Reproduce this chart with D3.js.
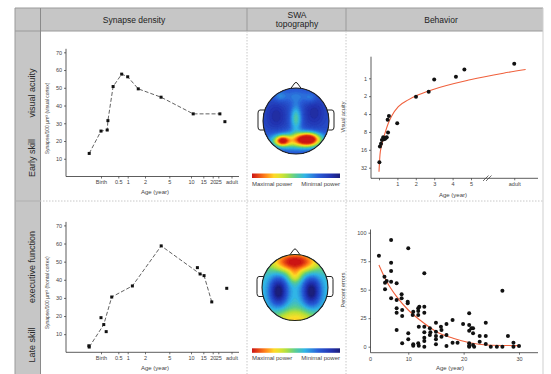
<!DOCTYPE html>
<html>
<head>
<meta charset="utf-8">
<script src="https://cdn.jsdelivr.net/npm/d3@7"></script>
<style>
  body { margin: 0; background: #fff; }
  svg { display: block; }
  text { font-family: "Liberation Sans", Arial, sans-serif; }
</style>
</head>
<body>
<svg id="fig" width="551" height="374"></svg>
<script>
// ---------------- data ----------------
// Synapse density, visual cortex (age in years; negative = before birth)
const visualAge     = [-0.34, 0, 0.18, 0.2, 0.35, 0.68, 1.0, 1.61, 3.98, 10.9, 25.6, 27.5];
const visualDensity = [13.0, 25.6, 26.2, 31.5, 50.7, 57.7, 56.2, 49.4, 44.7, 35.3, 35.3, 30.9];
const visualJoined  = [1, 1, 1, 1, 1, 1, 1, 1, 1, 1, 1, 0];

// Synapse density, frontal cortex
const frontalAge     = [-0.35, -0.34, 0, 0.08, 0.15, 0.31, 1.27, 4.0, 12.6, 13.7, 15.4, 19.5, 28.2];
const frontalDensity = [3.6, 2.9, 19.1, 15.3, 11.4, 30.5, 36.6, 58.7, 46.7, 43.2, 42.3, 27.8, 35.3];
const frontalJoined  = [0, 1, 0, 1, 0, 1, 1, 1, 0, 1, 1, 1, 0];

// Age axis of the synapse panels (30 stands for "adult")
const synTickAges   = [0, 0.5, 1, 2, 5, 10, 15, 20, 25, 30];
const synTickLabels = ["Birth", "0.5", "1", "2", "5", "10", "15", "20", "25", "adult"];
const synYTicks     = [10, 20, 30, 40, 50, 60, 70];

// Visual acuity vs age ("adult" placed after the axis break)
const acuityAge = [0.02, 0.05, 0.11, 0.16, 0.23, 0.27, 0.33, 0.38, 0.42, 0.49, 0.47, 0.54, 0.99, 2.01, 2.7, 3.0, 4.18, 4.64, "adult"];
const acuityVal = [26, 14, 12.7, 10.9, 9.8, 10.6, 10.4, 10, 9.8, 8.2, 5.0, 4.3, 5.7, 2.04, 1.68, 1.05, 0.94, 0.71, 0.57];
const acuityFitAge = [0.0, 0.054, 0.147, 0.326, 0.505, 0.69, 1.05, 1.59, 2.14, 2.86, 4.95, 6.76, 7.97];
const acuityFitVal = [37.3, 19.4, 13.3, 8.4, 5.7, 4.3, 3.0, 2.31, 1.9, 1.57, 1.06, 0.82, 0.71];
const acuityYTicks = [1, 2, 4, 8, 16, 32];
const acuityXTicks = [0, 1, 2, 3, 4, 5, "adult"];

// Percent errors vs age
const errorsAge = [4.7, 5.7, 5.8, 5.8, 6.1, 6.9, 6.9, 6.9, 6.9, 6.9, 7.9, 7.9, 7.9, 7.9, 7.9,
  8.8, 8.8, 8.9, 8.9, 8.9, 9.9, 9.9, 10, 10, 10, 10.8, 10.9, 10.9, 10.9, 11.8, 11.8, 11.8, 11.8,
  11.9, 11.9, 12, 12.9, 12.9, 12.9, 12.9, 12.9, 12.9, 12.9, 12.9, 13.9, 13.9, 14, 15, 15, 15, 15, 15,
  15.9, 16, 16, 16.9, 16.9, 16.9, 18, 18, 18.9, 19.9, 21, 21, 21, 21, 21, 21, 21.4, 21.7, 21.7, 21.7,
  21.9, 22.9, 22.9, 24, 24, 24, 24.9, 26, 27, 27, 28, 29, 29, 30];
const errorsPct = [79.8, 61.4, 56.1, 50.3, 57.6, 93.6, 73.7, 66.4, 57.0, 42.4, 55.6, 41.0, 33.7, 29.8, 14.6,
  46.0, 42.4, 32.2, 26.9, 3.0, 39.5, 38.1, 86.3, 11.7, 6.5, 27.8, 30.7, 2.1, 0.9, 33.7, 31.3, 27.8, 3.0,
  0.9, 17.5, 35.1, 64.4, 35.1, 29.8, 17.5, 12.6, 7.9, 5.0, 0, 16.1, 10.3, 12.6, 21.0, 13.2, 9.4, 6.5, 2.1,
  17.5, 14.6, 8.8, 19.9, 10.3, 0.6, 23.4, 3.5, 3.5, 19.9, 29.3, 19.0, 14.0, 3.0, 0.9, 0, 16.1, 16.1, 11.7, 1.5,
  0, 9.4, 4.4, 21.0, 9.4, 2.4, 0, 0, 49.1, 0, 9.4, 3.5, 0, 0.6];
const errorsFitAge = [4.7, 6.1, 7.9, 10, 12.1, 15.1, 18.1, 21.1, 24.2, 30];
const errorsFitPct = [71.7, 57.2, 43.9, 32.2, 23.4, 13.2, 7.4, 3.5, 1.5, 0.9];
const errorsYTicks = [0, 25, 50, 75, 100];
const errorsXTicks = [10, 20, 30];

// SWA topography: activity blobs [u, v, amplitude, spreadU, spreadV] in head-radius units
const topoVisualBase = 0.2;
const topoVisualBlobs = [
  [-0.6, -0.15, -0.12, 0.22, 0.3],
  [0.55, -0.25, -0.12, 0.22, 0.3],
  [0.0, -0.08, 0.3, 0.12, 0.28],
  [0.0, -0.75, 0.1, 0.3, 0.15],
  [-0.5, -0.75, 0.12, 0.14, 0.12],
  [0.45, -0.7, 0.1, 0.14, 0.12],
  [0.37, 0.55, 0.72, 0.24, 0.13],
  [-0.42, 0.6, 0.55, 0.15, 0.1],
  [0.0, 0.6, 0.45, 0.55, 0.17]
];
const topoFrontalBase = 0.45;
const topoFrontalBlobs = [
  [0.0, -0.78, 0.6, 0.5, 0.22],
  [0.0, -0.35, 0.22, 0.14, 0.15],
  [-0.5, 0.12, -0.47, 0.2, 0.32],
  [0.5, 0.12, -0.47, 0.2, 0.32],
  [0.0, 1.0, 0.32, 0.5, 0.25]
];

// ---------------- drawing ----------------
const svg = d3.select("#fig");
const INK = "#333";

// table frame
svg.append("rect").attr("x", 15).attr("y", 8).attr("width", 528).attr("height", 23).attr("fill", "#c6c6c6");
svg.append("rect").attr("x", 15).attr("y", 31).attr("width", 25).attr("height", 343).attr("fill", "#c6c6c6");
const frame = svg.append("g").attr("stroke", "#9a9a9a").attr("stroke-width", 1).attr("fill", "none");
frame.append("line").attr("x1", 15).attr("x2", 543).attr("y1", 8).attr("y2", 8);
frame.append("line").attr("x1", 15).attr("x2", 543).attr("y1", 31).attr("y2", 31);
frame.append("line").attr("x1", 15).attr("x2", 15).attr("y1", 8).attr("y2", 374);
frame.append("line").attr("x1", 40.5).attr("x2", 40.5).attr("y1", 8).attr("y2", 374).attr("stroke", "#8a8a8a");
frame.append("line").attr("x1", 247).attr("x2", 247).attr("y1", 8).attr("y2", 31);
frame.append("line").attr("x1", 346).attr("x2", 346).attr("y1", 8).attr("y2", 31);
frame.append("line").attr("x1", 543).attr("x2", 543).attr("y1", 8).attr("y2", 374).attr("stroke", "#cfcfcf");
const dots = svg.append("g").attr("stroke", "#c8c8c8").attr("stroke-width", 1).attr("stroke-dasharray", "1.5,1.5");
dots.append("line").attr("x1", 247).attr("x2", 247).attr("y1", 31).attr("y2", 374);
dots.append("line").attr("x1", 346).attr("x2", 346).attr("y1", 31).attr("y2", 374);
dots.append("line").attr("x1", 40).attr("x2", 543).attr("y1", 201).attr("y2", 201);
svg.append("line").attr("x1", 15).attr("x2", 40).attr("y1", 201).attr("y2", 201).attr("stroke", "#b0b0b0");

// column headers
const headers = [
  { lines: ["Synapse density"], x: 134 },
  { lines: ["SWA", "topography"], x: 297 },
  { lines: ["Behavior"], x: 441 }
];
headers.forEach(h => {
  const t = svg.append("text").attr("x", h.x).attr("text-anchor", "middle")
    .attr("font-size", 8.5).attr("fill", "#222");
  const y0 = h.lines.length === 1 ? 22.5 : 17.5;
  h.lines.forEach((s, i) => t.append("tspan").attr("x", h.x).attr("y", y0 + i * 9.5).text(s));
});

// row labels
const rowLabels = [
  { text: "visual acuity", y: 93 },
  { text: "Early skill", y: 158 },
  { text: "executive function", y: 267 },
  { text: "Late skill", y: 345 }
];
rowLabels.forEach(r => {
  svg.append("text").attr("transform", `translate(35,${r.y}) rotate(-90)`)
    .attr("text-anchor", "middle").attr("font-size", 9).attr("fill", "#2a2a2a").text(r.text);
});

function styleAxis(g, size) {
  g.select(".domain").remove();
  g.selectAll(".tick line").attr("stroke", INK).attr("stroke-width", 0.7);
  g.selectAll(".tick text").attr("font-size", size || 5.5).attr("fill", "#444")
    .attr("font-family", '"Liberation Sans", Arial, sans-serif');
}

// ---------- synapse density panels ----------
const synX = d3.scaleLinear()
  .domain([-0.75, ...synTickAges])
  .range([75, 101, 118.3, 127.7, 145, 169.3, 191, 203.3, 212.7, 218.3, 231.5]);

function synapsePanel(ages, dens, joined, top, bottom, yLabel) {
  const y = d3.scaleLinear().domain([0, 70]).range([bottom, top]);
  const g = svg.append("g");
  g.append("line").attr("x1", 66).attr("x2", 66).attr("y1", top - 3.5).attr("y2", bottom).attr("stroke", INK).attr("stroke-width", 0.8);
  g.append("line").attr("x1", 66).attr("x2", 239).attr("y1", bottom).attr("y2", bottom).attr("stroke", INK).attr("stroke-width", 0.8);
  const ya = g.append("g").attr("transform", "translate(66,0)")
    .call(d3.axisLeft(y).tickValues(synYTicks).tickSize(2).tickPadding(2));
  styleAxis(ya);
  const xa = g.append("g").attr("transform", `translate(0,${bottom})`)
    .call(d3.axisBottom(synX).tickValues(synTickAges).tickFormat((d, i) => synTickLabels[i]).tickSize(2).tickPadding(2));
  styleAxis(xa);
  g.append("text").attr("x", 155).attr("y", bottom + 17.5).attr("text-anchor", "middle")
    .attr("font-size", 6).attr("fill", "#444").text("Age (year)");
  g.append("text").attr("transform", `translate(49,${(top + bottom) / 2 + 4}) rotate(-90)`)
    .attr("text-anchor", "middle").attr("font-size", 5).attr("fill", "#444").text(yLabel);

  const pts = ages.map((a, i) => ({ a, v: dens[i], j: joined[i] }));
  const line = d3.line().x(d => synX(d.a)).y(d => y(d.v));
  g.append("path").datum(pts.filter(d => d.j)).attr("d", line)
    .attr("fill", "none").attr("stroke", "#3a3a3a").attr("stroke-width", 0.8).attr("stroke-dasharray", "4,2");
  g.selectAll("rect.pt").data(pts).join("rect").attr("class", "pt")
    .attr("x", d => synX(d.a) - 1.5).attr("y", d => y(d.v) - 1.5)
    .attr("width", 3).attr("height", 3).attr("fill", "#111");
}
synapsePanel(visualAge, visualDensity, visualJoined, 52.3, 176.5, "Synapse/100 µm³ (visual cortex)");
synapsePanel(frontalAge, frontalDensity, frontalJoined, 225.4, 352.3, "Synapse/100 µm³ (frontal cortex)");

// ---------- SWA topography ----------
const topoColor = d3.scaleLinear()
  .domain([0, 0.1, 0.25, 0.4, 0.52, 0.62, 0.74, 0.86, 1])
  .range(["#1c1f7a", "#2233b0", "#2a5fd8", "#31b5e6", "#5fd08a", "#b8e23a", "#ffe02a", "#ff7a1a", "#cc1414"]);

const defs = svg.append("defs");
const grad = defs.append("linearGradient").attr("id", "powerGrad");
d3.range(0, 1.0001, 0.05).forEach(t => {
  grad.append("stop").attr("offset", t).attr("stop-color", topoColor(1 - t));
});

function topoPanel(cx, cy, r, base, blobs, id, barY) {
  const n = 90, ext = 1.1;
  const values = new Float64Array(n * n);
  for (let j = 0; j < n; j++) {
    for (let i = 0; i < n; i++) {
      const u = ((i + 0.5) / n) * 2 * ext - ext;
      const v = ((j + 0.5) / n) * 2 * ext - ext;
      let f = base;
      blobs.forEach(b => {
        f += b[2] * Math.exp(-((u - b[0]) ** 2 / (2 * b[3] ** 2) + (v - b[1]) ** 2 / (2 * b[4] ** 2)));
      });
      values[j * n + i] = Math.max(0, Math.min(1, f));
    }
  }
  const contours = d3.contours().size([n, n]).thresholds(d3.range(0, 1.0001, 0.025))(values);
  const proj = d3.geoIdentity().scale((2 * ext * r) / n).translate([cx - ext * r, cy - ext * r]);
  const path = d3.geoPath(proj);

  const g = svg.append("g");
  // ears and nose
  const ear = (sx) => {
    const x0 = cx + sx * (r - 2), x1 = cx + sx * (r + 5);
    return `M${x0},${cy - 11} L${x1 - sx * 2},${cy - 11} Q${x1},${cy - 11} ${x1},${cy - 8} L${x1},${cy + 6} Q${x1},${cy + 9} ${x1 - sx * 2},${cy + 9} L${x0},${cy + 9}`;
  };
  [-1, 1].forEach(sx => g.append("path").attr("d", ear(sx)).attr("fill", "#fff").attr("stroke", "#222").attr("stroke-width", 1));
  g.append("path").attr("d", `M${cx - 6},${cy - r + 1.5} L${cx - 1.2},${cy - r - 5} Q${cx},${cy - r - 6.2} ${cx + 1.2},${cy - r - 5} L${cx + 6},${cy - r + 1.5}`)
    .attr("fill", "#fff").attr("stroke", "#222").attr("stroke-width", 1);

  defs.append("clipPath").attr("id", id).append("circle").attr("cx", cx).attr("cy", cy).attr("r", r);
  g.append("g").attr("clip-path", `url(#${id})`)
    .selectAll("path").data(contours).join("path")
    .attr("d", path).attr("fill", d => topoColor(d.value)).attr("stroke", d => topoColor(d.value)).attr("stroke-width", 0.3);
  g.append("circle").attr("cx", cx).attr("cy", cy).attr("r", r).attr("fill", "none").attr("stroke", "#222").attr("stroke-width", 1.1);

  // colour bar
  g.append("rect").attr("x", 252).attr("y", barY).attr("width", 88).attr("height", 4.5).attr("fill", "url(#powerGrad)");
  g.append("text").attr("x", 252).attr("y", barY + 12).attr("font-size", 6).attr("fill", "#444").text("Maximal power");
  g.append("text").attr("x", 340).attr("y", barY + 12).attr("text-anchor", "end").attr("font-size", 6).attr("fill", "#444").text("Minimal power");
}
topoPanel(296, 121, 33, topoVisualBase, topoVisualBlobs, "headClipA", 173.5);
topoPanel(295, 287.5, 33, topoFrontalBase, topoFrontalBlobs, "headClipB", 348.3);

// ---------- behavior: visual acuity ----------
const ADULT_SLOT = 7.35;
const acX = d3.scaleLinear().domain([0, 8]).range([379, 526.2]);
const acY = d3.scaleLog().base(2).domain([1, 32]).range([78.3, 167.7]);
const slot = a => (a === "adult" ? ADULT_SLOT : a);
{
  const g = svg.append("g");
  const bottom = 178.3;
  g.append("line").attr("x1", 371).attr("x2", 371).attr("y1", 56.7).attr("y2", bottom).attr("stroke", INK).attr("stroke-width", 0.8);
  g.append("line").attr("x1", 371).attr("x2", 538).attr("y1", bottom).attr("y2", bottom).attr("stroke", INK).attr("stroke-width", 0.8);
  styleAxis(g.append("g").attr("transform", "translate(371,0)")
    .call(d3.axisLeft(acY).tickValues(acuityYTicks).tickFormat(d3.format("d")).tickSize(2).tickPadding(2)));
  styleAxis(g.append("g").attr("transform", `translate(0,${bottom})`)
    .call(d3.axisBottom(acX).tickValues(acuityXTicks.map(slot))
      .tickFormat((d, i) => (acuityXTicks[i] === 0 ? "" : String(acuityXTicks[i]))).tickSize(2).tickPadding(2)));
  // axis break
  [0, 3].forEach(o => g.append("line").attr("x1", 483 + o).attr("y1", 181).attr("x2", 488.5 + o).attr("y2", 175.5)
    .attr("stroke", INK).attr("stroke-width", 0.7));
  g.append("text").attr("x", 453).attr("y", 197).attr("text-anchor", "middle").attr("font-size", 6).attr("fill", "#444").text("Age (year)");
  g.append("text").attr("transform", "translate(345,117) rotate(-90)").attr("text-anchor", "middle")
    .attr("font-size", 5.5).attr("fill", "#444").text("Visual acuity");

  const fit = acuityFitAge.map((a, i) => [acX(a), acY(acuityFitVal[i])]);
  g.append("path").attr("d", d3.line().curve(d3.curveMonotoneX)(fit)).attr("fill", "none")
    .attr("stroke", "#f0603c").attr("stroke-width", 1.1);
  g.selectAll("circle.pt").data(acuityAge.map((a, i) => [acX(slot(a)), acY(acuityVal[i])]))
    .join("circle").attr("class", "pt").attr("cx", d => d[0]).attr("cy", d => d[1]).attr("r", 2).attr("fill", "#111");
}

// ---------- behavior: percent errors ----------
const erX = d3.scaleLinear().domain([0, 30]).range([352.9, 519]);
const erY = d3.scaleLinear().domain([0, 100]).range([346.7, 232.7]);
{
  const g = svg.append("g");
  const bottom = 352.7;
  g.append("line").attr("x1", 370.5).attr("x2", 370.5).attr("y1", 229.5).attr("y2", bottom).attr("stroke", INK).attr("stroke-width", 0.8);
  g.append("line").attr("x1", 370.5).attr("x2", 538).attr("y1", bottom).attr("y2", bottom).attr("stroke", INK).attr("stroke-width", 0.8);
  styleAxis(g.append("g").attr("transform", "translate(370.5,0)")
    .call(d3.axisLeft(erY).tickValues(errorsYTicks).tickSize(2).tickPadding(2)));
  styleAxis(g.append("g").attr("transform", `translate(0,${bottom})`)
    .call(d3.axisBottom(erX).tickValues(errorsXTicks).tickSize(2).tickPadding(2)));
  g.append("text").attr("x", 370.5).attr("y", bottom + 8).attr("text-anchor", "middle").attr("font-size", 5.5).attr("fill", "#444").text("0");
  g.append("text").attr("x", 450).attr("y", 369.5).attr("text-anchor", "middle").attr("font-size", 6).attr("fill", "#444").text("Age (year)");
  g.append("text").attr("transform", "translate(345,290) rotate(-90)").attr("text-anchor", "middle")
    .attr("font-size", 5.5).attr("fill", "#444").text("Percent errors");

  const fit = errorsFitAge.map((a, i) => [erX(a), erY(errorsFitPct[i])]);
  g.append("path").attr("d", d3.line().curve(d3.curveMonotoneX)(fit)).attr("fill", "none")
    .attr("stroke", "#f0603c").attr("stroke-width", 1.1);
  g.selectAll("circle.pt").data(errorsAge.map((a, i) => [erX(a), erY(errorsPct[i])]))
    .join("circle").attr("class", "pt").attr("cx", d => d[0]).attr("cy", d => d[1]).attr("r", 2).attr("fill", "#111");
}
</script>
</body>
</html>
